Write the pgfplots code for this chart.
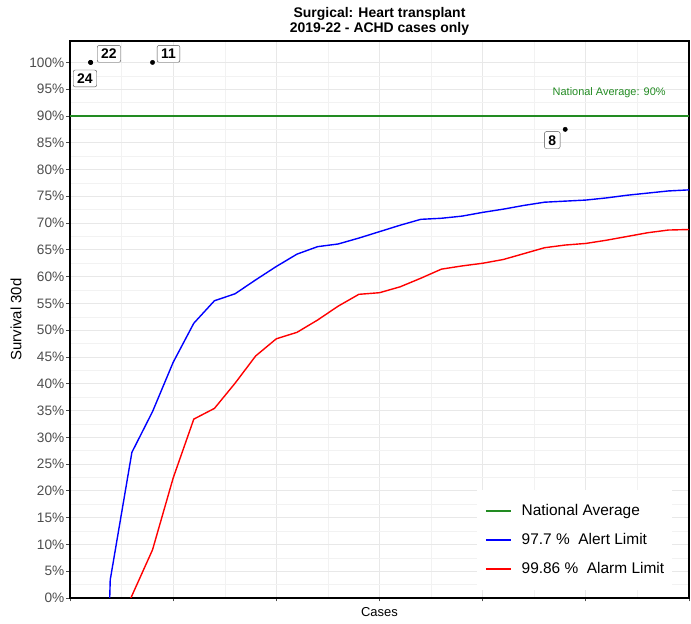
\documentclass[border=0pt]{standalone}
\usepackage{pgfplots}
\pgfplotsset{compat=1.18}
\usepackage{fontspec}
\setmainfont{Liberation Sans}
\definecolor{natgreen}{RGB}{34,139,34}
\definecolor{gridc}{RGB}{232,232,232}
\definecolor{gridm}{RGB}{242,242,242}
\definecolor{tickc}{RGB}{77,77,77}
\definecolor{limblue}{RGB}{0,0,255}
\definecolor{limred}{RGB}{255,0,0}
\pgfplotsset{
  mylegline/.style={legend image code/.code={\draw[##1, line width=1.5bp] (0bp,0bp) -- (25bp,0bp);}},
}
\begin{document}
\begin{tikzpicture}[x=1bp,y=1bp]
\useasboundingbox (-70,-26) rectangle (621,598);
\begin{axis}[
  at={(0,0)}, anchor=south west,
  scale only axis, width=619bp, height=557bp,
  xmin=0, xmax=60, ymin=0, ymax=104,
  xtick={0,10,...,60}, xticklabels={},
  minor x tick num=1,
  ytick={0,5,...,100}, minor y tick num=1,
  yticklabel={\pgfmathprintnumber{\tick}\%},
  /pgf/number format/assume math mode=true,
  tick pos=left, tick align=outside,
  major tick length=3.5bp, minor tick length=0bp,
  every tick/.style={tickc, line width=0.8bp},
  grid=both,
  major grid style={gridc, line width=0.9bp},
  minor grid style={gridm, line width=0.5bp},
  axis line style={black, line width=1.6bp},
  yticklabel style={font=\fontsize{13.7}{15}\selectfont, color=tickc, inner sep=2bp},
  title={Surgical: Heart transplant\\2019-22 - ACHD cases only},
  title style={font=\bfseries\fontsize{14}{15.5}\selectfont, align=center,
    at={(axis description cs:0.5,1)}, anchor=south, yshift=-1bp, inner sep=0pt},
  xlabel={Cases},
  xlabel style={font=\fontsize{13}{15}\selectfont, at={(axis description cs:0.5,0)},
    anchor=north, yshift=-9.5bp, inner sep=0pt},
  ylabel={Survival 30d},
  ylabel style={font=\fontsize{15}{17}\selectfont, at={(axis description cs:-0.0872,0.5)},
    anchor=center, inner sep=0pt},
  mylegline,
  legend style={at={(axis description cs:0.6575,0.194)}, anchor=north west,
    draw=none, fill=white, font=\fontsize{15.5}{17}\selectfont,
    inner xsep=8bp, inner ysep=14bp, row sep=15bp, column sep=10bp,
    nodes={inner sep=0pt, text height=11bp, text depth=3bp}},
  legend cell align=left,
  clip mode=individual,
]
\addplot[natgreen, line width=1.3bp] coordinates {(0,90) (60,90)};
\addlegendentry{National Average}
\addplot[limblue, line width=1.4bp] coordinates {
(3.85,0) (3.9,3.4) (6,27.2) (8,34.8) (10,44.0) (12,51.3) (14,55.5) (16,56.8)
(18,59.4) (20,61.9) (22,64.2) (24,65.6) (26,66.1) (28,67.2) (30,68.4) (32,69.6)
(34,70.7) (36,70.9) (38,71.3) (40,72.0) (42,72.6) (44,73.3) (46,73.9) (48,74.1)
(50,74.3) (52,74.7) (54,75.2) (56,75.6) (58,76.0) (60,76.2)};
\addlegendentry{97.7 \%\ \ Alert Limit}
\addplot[limred, line width=1.4bp] coordinates {
(5.9,0) (8,9.0) (10,22.4) (12,33.4) (14,35.4) (16,40.1) (18,45.2) (20,48.4)
(22,49.6) (24,51.9) (26,54.5) (28,56.7) (30,57.0) (32,58.1) (34,59.7) (36,61.4)
(38,62.0) (40,62.5) (42,63.2) (44,64.3) (46,65.4) (48,65.9) (50,66.2) (52,66.8)
(54,67.5) (56,68.2) (58,68.7) (60,68.8)};
\addlegendentry{99.86 \%\ \ Alarm Limit}
\addplot[only marks, mark=*, mark size=2.2bp, black, forget plot] coordinates {
(2,100) (2,100) (8,100) (48,87.5)};
\tikzset{lab/.style={draw=black!70, line width=0.4bp, fill=white, rounded corners=2bp,
  font=\bfseries\fontsize{14}{16}\selectfont, inner xsep=4bp, inner ysep=3.3bp,
  text height=10.3bp, text depth=0pt}}
\node[lab] at (axis cs:3.78,101.6) {22};
\node[lab] at (axis cs:1.45,97.0) {24};
\node[lab] at (axis cs:9.55,101.6) {11};
\node[lab] at (axis cs:46.75,85.5) {8};
\node[natgreen, font=\fontsize{11}{13}\selectfont, inner sep=0pt] at (axis cs:52.26,94.4) {National Average: 90\%};
\end{axis}
\end{tikzpicture}
\end{document}
